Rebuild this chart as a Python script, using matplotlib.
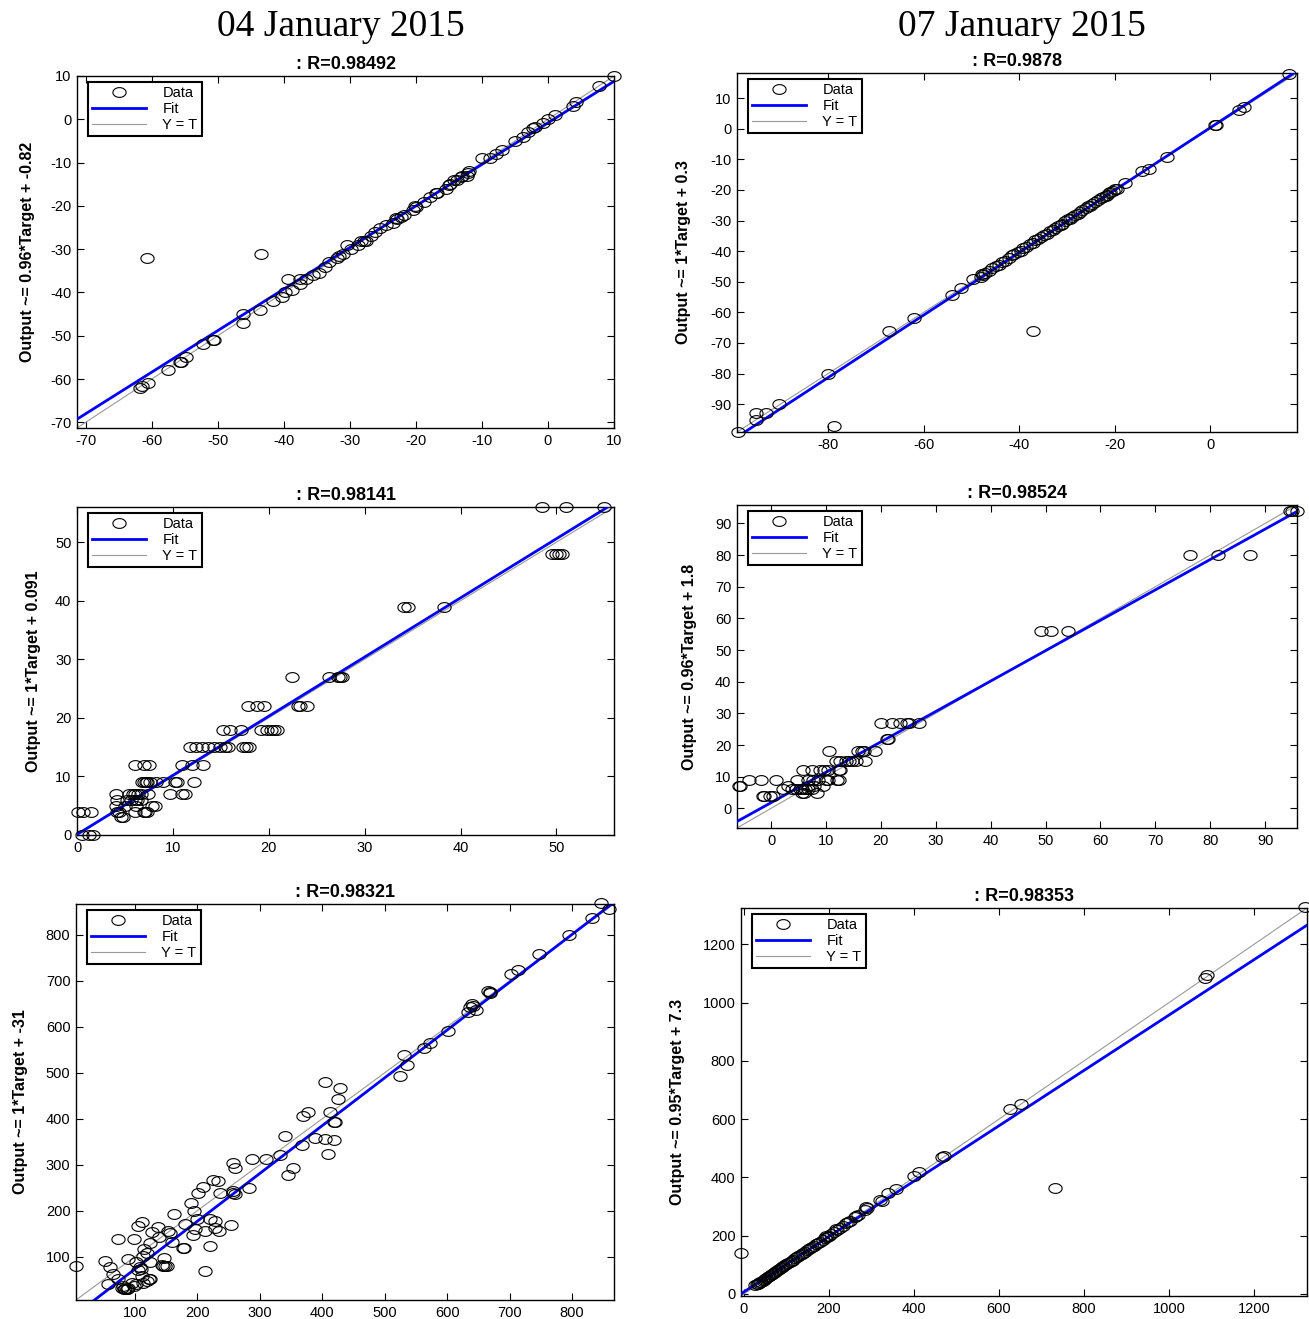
import matplotlib
matplotlib.use("Agg")
import matplotlib.pyplot as plt
from matplotlib.path import Path
import numpy as np

plt.rcParams['font.family'] = ['Liberation Sans', 'DejaVu Sans']
plt.rcParams['axes.unicode_minus'] = False

# ---------------- DATA ----------------
column_titles = ["04 January 2015", "07 January 2015"]
r_values = [0.98492, 0.9878, 0.98141, 0.98524, 0.98321, 0.98353]
fit_slopes = [0.96, 1.02, 1.01, 0.96, 1.04, 0.95]
fit_intercepts = [-0.82, 0.3, 0.091, 1.8, -31, 7.3]
axis_limits = [(-71.3, 10), (-99.1, 18.2), (0, 56), (-6.2, 95.8), (6, 867), (-7, 1325)]
x_ticks = [list(range(-70, 11, 10)), [-80, -60, -40, -20, 0], list(range(0, 51, 10)),
           list(range(0, 91, 10)), list(range(100, 801, 100)), list(range(0, 1201, 200))]
y_ticks = [list(range(-70, 11, 10)), list(range(-90, 11, 10)), list(range(0, 51, 10)),
           list(range(0, 91, 10)), list(range(100, 801, 100)), list(range(0, 1201, 200))]

# Panel 1 (04 Jan, top)
t1 = [10, 7.8, 4.2, 3.8, 1, 0, -0.7, -2, -2.2, -3, -3.8, -5, -7, -7.8, -10, -8.7,
      -12, -12.1, -12.3, -13, -13.2, -13.7, -14.2, -14.8, -15, -15.5, -16.8, -17, -17.8, -18.8,
      -20.2, -20, -20.5, -21.8, -22.3, -22.9, -23, -23.4, -24.5, -25.4, -26.2, -26.8, -27.6, -27.8, -28.3, -28.8,
      -29.8, -30.4, -31, -31.6, -32, -33.2, -33.7, -34.7, -35.6, -36.7, -37.6, -39.3, -37.6, -38.8, -39.8, -40.2,
      -41.6, -43.6, -43.4, -60.7, -46.2, -46.1, -50.5, -50.7, -52.2, -54.8, -55.5, -55.7, -57.5, -60.5, -61.5, -61.7]
o1 = [10, 7.8, 4, 3, 1, 0, -0.8, -1.8, -2.1, -3, -4, -5, -7, -8, -9, -9,
      -12, -12.3, -13, -13, -13.4, -14, -14, -15, -15.2, -16, -17, -17, -18, -19,
      -20, -20.2, -21, -22, -22.5, -23, -22.8, -24, -24.5, -25, -26, -27, -28, -28.2, -28, -29,
      -30, -29, -31, -31.5, -32, -33, -34, -35.5, -36, -37, -37, -37, -38, -39.5, -40, -41,
      -42, -44, -31, -32, -45, -47, -51, -51, -52, -55, -56, -56, -58, -61, -61.5, -62]

# Panel 2 (07 Jan, top)
t2 = [16.5, 6, 7, 1, 1.2, -9.1, -14.3, -12.9, -17.8,
      -19.4, -19.9, -20.4, -20.9, -21.2, -21.6, -21.8, -22.4, -22.9, -23.5, -24.1, -24.7, -25.2, -25.5,
      -26.1, -26.8, -27.3, -27.6, -28.2, -28.9, -29.3, -29.7, -30.4, -31.0, -31.3, -31.8, -32.5, -33.0,
      -33.6, -34.2, -34.7, -35.5, -36.0, -36.6, -37.2, -37.8, -38.5, -39.1, -39.7, -40.3, -41.0, -41.6,
      -42.2, -43.0, -43.6, -44.3, -44.9, -45.7, -46.4, -47.2, -47.8, -48.0, -47.5,
      -49.6, -54.1, -52.2, -62.1, -67.2, -80, -37.2, -78.7, -90.4, -95.2, -93.1, -95.2, -98.9]
o2 = [18, 6, 7.2, 1.3, 1.1, -9.1, -13.9, -13.1, -17.8,
      -19.8, -19.6, -20.3, -20.6, -21.0, -21.5, -21.9, -22.2, -22.7, -23.4, -24.0, -24.6, -25.3, -25.4,
      -25.9, -26.5, -27.2, -27.8, -28.3, -28.8, -29.4, -29.5, -30.3, -31.0, -31.5, -31.7, -32.4, -33.1,
      -33.4, -34.3, -34.6, -35.4, -36.1, -36.4, -37.3, -37.6, -38.6, -38.9, -39.8, -40.4, -41.1, -41.4,
      -42.3, -43.1, -43.5, -44.4, -45.0, -45.6, -46.5, -47.3, -47.6, -48.4, -47.9,
      -49, -54.2, -52, -62, -66, -80, -66, -97, -90, -93, -93, -95.2, -99]

# Panel 3 (04 Jan, middle)
t3 = [48.5, 51, 55, 49.5, 50, 50.3, 50.6, 34.1, 34.5, 38.3,
      22.4, 26.3, 27.2, 27.4, 27.6, 17.8, 18.8, 19.5, 23.0, 23.3, 24.0,
      15.2, 16, 17.1, 19.2, 19.8, 20.2, 20.5, 20.9,
      11.8, 12.4, 13, 13.7, 14.3, 14.9, 15.4, 15.7, 17.3, 17.9, 17.6,
      6, 7, 7.5, 10.9, 12, 13.1,
      7, 7.3, 7.6, 8.2, 9, 10.2, 10.4, 12.2, 6.8, 7.2,
      4.1, 5.4, 6.1, 6.7, 7.4, 9.7, 10.9, 11.3, 5.8, 6.4,
      4.2, 5.6, 6.3, 6.7, 5.2, 6.0,
      4.1, 5, 7.8, 8.1, 6.2,
      0.1, 0.6, 1.5, 4.2, 4.4, 6.1, 7.1, 7.3, 7.0,
      4.6, 4.8, 0.5, 1.3, 1.7]
o3 = [56, 56, 56, 48, 48, 48, 48, 39, 39, 39,
      27, 27, 27, 27, 27, 22, 22, 22, 22, 22, 22,
      18, 18, 18, 18, 18, 18, 18, 18,
      15, 15, 15, 15, 15, 15, 15, 15, 15, 15, 15,
      12, 12, 12, 12, 12, 12,
      9, 9, 9, 9, 9, 9, 9, 9, 9, 9,
      7, 7, 7, 7, 7, 7, 7, 7, 7, 7,
      6, 6, 6, 6, 6, 6,
      5, 5, 5, 5, 5,
      4, 4, 4, 4, 4, 4, 4, 4, 4,
      3, 3, 0, 0, 0]

# Panel 4 (07 Jan, middle)
t4 = [94.6, 94.9, 95.8, 76.4, 81.4, 87.2, 49.2, 51, 54,
      20.1, 22, 23.5, 24.8, 25.1, 26.9, 21.1, 21.3,
      10.6, 15.9, 16.6, 17, 18.9,
      11.9, 12.6, 13.7, 14.8, 15.5, 17.2, 14.2,
      5.9, 7.4, 9, 9.7, 10.4, 12.3, 12.6,
      -4.1, -1.9, 0.9, 4.8, 6.8, 7.7, 10.1, 10.3, 12.1, 12.4, 8.5,
      -5.9, -5.7, 3, 6.8, 9.4, 7.8,
      2.1, 3.9, 4.6, 5.7, 6.8, 5.2, 6.2, 7.4,
      5.7, 8.3, 6.0,
      -1.5, -1.2, -0.1, 0.3]
o4 = [94, 94, 94, 80, 80, 80, 56, 56, 56,
      27, 27, 27, 27, 27, 27, 22, 22,
      18, 18, 18, 18, 18,
      15, 15, 15, 15, 15, 15, 15,
      12, 12, 12, 12, 12, 12, 12,
      9, 9, 9, 9, 9, 9, 9, 9, 9, 9, 9,
      7, 7, 7, 7, 7, 7,
      6, 6, 6, 6, 6, 6, 6, 6,
      5, 5, 5,
      4, 4, 4, 4]

# Panel 5 (04 Jan, bottom)
t5 = [846, 859, 831, 795, 747, 702, 714, 666, 669, 668, 640, 641, 634, 646, 637,
      602, 572, 563, 531, 536, 524, 405, 428, 425, 412, 419, 421, 370, 377,
      389, 405, 419, 409, 368, 341, 332, 310, 287, 354, 345, 257, 261, 283,
      257, 258, 260, 237, 225, 234, 210, 201, 190, 195, 163, 200, 221, 228, 180,
      213, 197, 235, 229, 193, 254, 154, 156, 138, 139, 128, 160, 106, 112, 99, 73,
      125, 115, 119, 113, 179, 177, 221, 212, 90, 52, 61, 65, 57, 6,
      102, 108, 110, 106, 125, 147, 144, 148, 151, 145,
      73, 79, 83, 87, 90, 81, 99, 102, 96, 114, 123, 125, 120, 112, 85, 88]
o5 = [869, 856, 836, 799, 759, 714, 724, 678, 673, 676, 649, 646, 633, 636, 642,
      590, 564, 553, 538, 517, 492, 479, 468, 443, 414, 392, 392, 405, 414,
      359, 356, 354, 323, 343, 362, 321, 312, 312, 294, 278, 304, 292, 250,
      243, 238, 236, 238, 267, 264, 252, 238, 217, 199, 192, 182, 182, 177, 172,
      157, 160, 155, 162, 147, 170, 157, 151, 165, 142, 153, 133, 167, 175, 138, 138,
      129, 117, 109, 102, 118, 120, 124, 70, 96, 90, 77, 62, 41, 79,
      88, 77, 73, 72, 88, 97, 83, 80, 79, 80,
      51, 33, 30, 30, 33, 36, 37, 41, 42, 44, 51, 51, 48, 59, 31, 29]

# Panel 6 (07 Jan, bottom)
t6 = [-7, 732, 1320, 1084, 1089, 627, 652, 465, 470, 401, 413, 357, 338, 321, 288, 263, 239, 216, 192,
      27, 30, 32, 35, 38, 40, 44, 47, 50, 53, 56, 60, 63, 66, 70, 73, 76, 80, 83, 86, 90, 93, 96,
      100, 104, 108, 112, 116, 120, 124, 128, 132, 136, 140, 144, 148, 152, 156, 160, 165, 170,
      175, 180, 185, 190, 196, 200, 205, 212, 218, 225, 232, 245, 250, 262, 268, 285, 290, 325]
o6 = [140, 363, 1328, 1086, 1094, 635, 651, 470, 475, 406, 418, 361, 346, 323, 298, 266, 245, 224, 198,
      30, 33, 35, 38, 40, 42, 46, 49, 53, 55, 58, 62, 65, 68, 72, 75, 78, 82, 86, 88, 92, 95, 98,
      102, 106, 110, 113, 118, 122, 126, 130, 134, 137, 141, 145, 150, 153, 157, 161, 166, 171,
      176, 180, 186, 191, 197, 200, 206, 214, 220, 226, 233, 248, 252, 264, 270, 288, 294, 318]

targets = [t1, t2, t3, t4, t5, t6]
outputs = [o1, o2, o3, o4, o5, o6]

# ---------------- LAYOUT (pixels) ----------------
W, H = 1309, 1319
boxes = [(77, 76, 614, 428), (737, 73, 1297, 432),
         (77, 507, 614, 835), (737, 505, 1297, 828),
         (76, 904, 614, 1300), (741, 908, 1307, 1296)]
ylabel_offsets = [50, 54, 44, 48, 56, 64]

# elliptical open marker (wider than tall, like the stretched original)
_th = np.linspace(0, 2 * np.pi, 49)
ellipse_marker = Path(np.column_stack([np.cos(_th), 0.74 * np.sin(_th)]), closed=True)

fig = plt.figure(figsize=(W / 100, H / 100), dpi=100)

for i in range(6):
    l, t, r, b = boxes[i]
    ax = fig.add_axes([l / W, 1 - b / H, (r - l) / W, (b - t) / H])
    lo, hi = axis_limits[i]
    xs = np.array([lo, hi])
    h_yt, = ax.plot(xs, xs, color='#999999', lw=0.8, zorder=2)
    h_fit, = ax.plot(xs, fit_slopes[i] * xs + fit_intercepts[i], color='#0000ff', lw=2.0, zorder=3)
    h_data, = ax.plot(targets[i], outputs[i], linestyle='none', marker=ellipse_marker, markersize=9.5,
                      markerfacecolor='none', markeredgecolor='black', markeredgewidth=0.8,
                      zorder=4, clip_on=False)
    ax.set_xlim(lo, hi)
    ax.set_ylim(lo, hi)
    ax.set_xticks(x_ticks[i])
    ax.set_yticks(y_ticks[i])
    ax.tick_params(direction='in', length=5, width=0.8, top=True, right=True,
                   labelsize=10.5, pad=4, colors='black')
    for s in ax.spines.values():
        s.set_linewidth(1.0)
    ax.set_title(": R=%s" % r_values[i], fontsize=13, fontweight='bold', pad=5)
    lab = "Output ~= %s*Target + %s" % ('%.2g' % fit_slopes[i], '%.2g' % fit_intercepts[i])
    ax.set_ylabel(lab, fontsize=11.5, fontweight='bold')
    ax.yaxis.set_label_coords(-(ylabel_offsets[i] - 8) / (r - l), 0.5)
    leg = ax.legend([h_data, h_fit, h_yt], ['Data', 'Fit', 'Y = T'], loc='upper left',
                    bbox_to_anchor=(11 / (r - l), 1 - 6 / (b - t)), borderaxespad=0,
                    fontsize=10.5, fancybox=False, framealpha=1, edgecolor='black',
                    handlelength=3.7, handletextpad=1.1, labelspacing=0.12, borderpad=0.3)
    leg.get_frame().set_linewidth(1.5)

fig.text(341 / W, 1 - 27 / H, column_titles[0], ha='center', va='center', fontsize=27,
         family=['Liberation Serif', 'DejaVu Serif'])
fig.text(1022 / W, 1 - 27 / H, column_titles[1], ha='center', va='center', fontsize=27,
         family=['Liberation Serif', 'DejaVu Serif'])

fig.savefig("out.png", dpi=100, facecolor='white')
